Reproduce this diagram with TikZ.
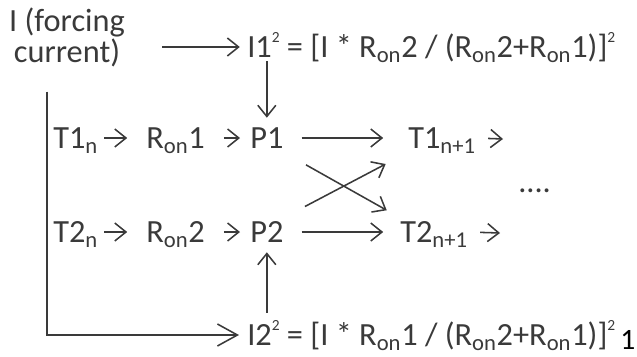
\documentclass[tikz,border=0pt]{standalone}
\usepackage{fontspec}
\setmainfont{Carlito}
\usepackage{xcolor}
\definecolor{Txtgray}{RGB}{58,58,58}
\usetikzlibrary{arrows.meta, calc}
\newcommand{\sqr}{\raisebox{0.45em}{\fontsize{11}{11}\selectfont 2}}
\newcommand{\ron}{R\textsubscript{on}}

\begin{document}
\begin{tikzpicture}[
  x=0.025cm, y=-0.025cm,
  lbl/.style={inner sep=0pt, anchor=base west,
              text height=0.6cm, text depth=0.1cm,
              font=\fontsize{23}{27}\selectfont, text=Txtgray},
  srcbox/.style={inner sep=0pt, anchor=base, align=center,
                 font=\fontsize{23}{20.6}\selectfont, text=Txtgray},
  pgnum/.style={inner sep=0pt, anchor=base west,
                font=\fontsize{21}{24}\selectfont, text=black},
  arr/.style={-{Straight Barb[length=0.28cm, width=0.45cm]},
              line width=1.1pt, draw=Txtgray},
  bigarr/.style={-{Straight Barb[length=0.5cm, width=0.55cm]},
                 line width=1.1pt, draw=Txtgray}
]
\useasboundingbox (0,0) rectangle (637,356);

%% --- source and squared currents ---
\node[srcbox]          (src)  at (67, 62)  {I (forcing\\current)};
\node[lbl]             (i1)   at (247, 57)
    {I1\sqr{} = [I * \ron2 / (\ron2+\ron1)]\sqr};
\node[lbl]             (i2)   at (247, 345)
    {I2\sqr{} = [I * \ron1 / (\ron2+\ron1)]\sqr};

%% --- row 1 ---
\node[lbl]             (t1n)  at (53, 148)  {T1\textsubscript{n}};
\node[lbl]             (r1)   at (146, 148) {\ron1};
\node[lbl]             (p1)   at (250, 148) {P1};
\node[lbl]             (t1n1) at (408, 148) {T1\textsubscript{n+1}};
\coordinate            (e1)   at (503, 139);

%% --- row 2 ---
\node[lbl]             (t2n)  at (53, 242)  {T2\textsubscript{n}};
\node[lbl]             (r2)   at (146, 242) {\ron2};
\node[lbl]             (p2)   at (250, 242) {P2};
\node[lbl]             (t2n1) at (400, 242) {T2\textsubscript{n+1}};
\coordinate            (e2)   at (500, 233);

\node[lbl]             (dots) at (518, 192) {....};
\node[pgnum]           (pg)   at (620, 349) {1};

%% --- connectors ---
\draw[arr, shorten <=0.93cm, shorten >=0.18cm] (src.east |- i1.west) -- (i1.west);
\draw[arr, shorten >=0.15cm] (p1.north |- i1.south) -- (p1.north);
\draw[bigarr, shorten <=0.62cm, shorten >=0.2cm] ([xshift=-0.5cm]src.south) |- (i2.west);
\draw[arr, shorten <=0.2cm, shorten >=0.15cm] (p2.south |- i2.north) -- (p2.south);

\draw[arr, shorten <=0.15cm, shorten >=0.47cm] (t1n.east) -- (r1.west);
\draw[arr, shorten <=0.47cm, shorten >=0.25cm] (r1.east) -- (p1.west);
\draw[arr, shorten <=0.45cm, shorten >=0.62cm] (p1.east) -- (t1n1.west);
\draw[arr, shorten <=0.3cm] (t1n1.east) -- (e1);

\draw[arr, shorten <=0.15cm, shorten >=0.47cm] (t2n.east) -- (r2.west);
\draw[arr, shorten <=0.47cm, shorten >=0.25cm] (r2.east) -- (p2.west);
\draw[arr, shorten <=0.45cm, shorten >=0.42cm] (p2.east) -- (t2n1.west);
\draw[arr, shorten <=0.3cm] (t2n1.east) -- (e2);

\draw[arr, shorten <=0.64cm, shorten >=0.38cm] (p1.south east) -- (t2n1.north west);
\draw[arr, shorten <=0.6cm, shorten >=0.63cm] (p2.north east) -- (t1n1.south west);

\end{tikzpicture}
\end{document}
